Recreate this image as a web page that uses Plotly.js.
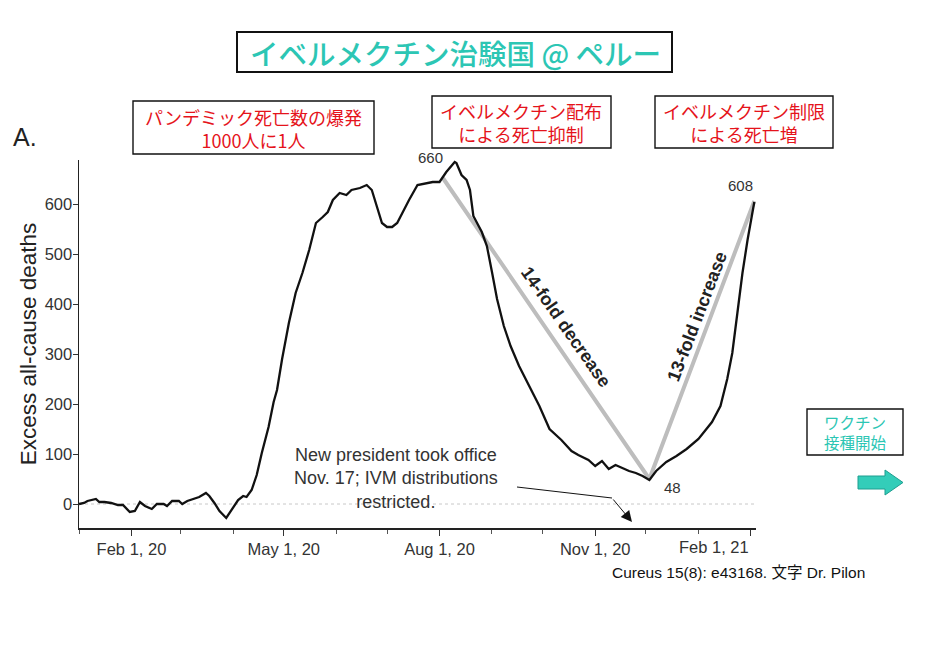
<!DOCTYPE html>
<html>
<head>
<meta charset="utf-8">
<script src="https://cdn.plot.ly/plotly-3.0.1.min.js"></script>
<style>
  html, body { margin: 0; padding: 0; background: #fff; }
  #chart { width: 934px; height: 653px; }
</style>
</head>
<body>
<div id="chart"></div>
<script>
// excess all-cause deaths (Peru)
var dates = [
  '2020-01-01','2020-01-04','2020-01-06','2020-01-11','2020-01-13','2020-01-16','2020-01-20','2020-01-24','2020-01-27','2020-01-31',
  '2020-02-03','2020-02-06','2020-02-09','2020-02-13','2020-02-16','2020-02-20','2020-02-22','2020-02-25','2020-02-29',
  '2020-03-02','2020-03-05','2020-03-09','2020-03-12','2020-03-16','2020-03-18','2020-03-21','2020-03-24','2020-03-28','2020-03-31',
  '2020-04-04','2020-04-07','2020-04-09','2020-04-12','2020-04-15','2020-04-18','2020-04-22','2020-04-25','2020-04-27','2020-04-30',
  '2020-05-04','2020-05-08','2020-05-12','2020-05-16','2020-05-20','2020-05-24','2020-05-27','2020-05-30',
  '2020-06-03','2020-06-07','2020-06-10','2020-06-15','2020-06-19','2020-06-22','2020-06-25','2020-06-28',
  '2020-07-01','2020-07-04','2020-07-07','2020-07-10','2020-07-14','2020-07-19','2020-07-24','2020-07-28',
  '2020-08-01','2020-08-05','2020-08-10','2020-08-11','2020-08-14','2020-08-17','2020-08-19','2020-08-21','2020-08-26','2020-08-29',
  '2020-09-01','2020-09-04','2020-09-08','2020-09-12','2020-09-17','2020-09-23','2020-09-29',
  '2020-10-05','2020-10-12','2020-10-18','2020-10-22','2020-10-28',
  '2020-11-01','2020-11-05','2020-11-09','2020-11-13','2020-11-17','2020-11-21','2020-11-25','2020-11-29',
  '2020-12-03','2020-12-07','2020-12-13','2020-12-19','2020-12-25',
  '2021-01-01','2021-01-09','2021-01-14','2021-01-18','2021-01-21','2021-01-24','2021-01-27','2021-01-30',
  '2021-02-02','2021-02-03'
];
var deaths = [
  0, 2, 6, 10, 4, 4, 2, -2, -2, -16,
  -14, 4, -4, -10, 0, 0, -4, 6, 6,
  0, 6, 10, 14, 22, 16, 2, -14, -28, -12,
  8, 16, 14, 28, 58, 102, 154, 204, 228, 290,
  362, 422, 462, 508, 562, 574, 584, 608,
  622, 618, 628, 632, 638, 628, 596, 562,
  554, 554, 562, 582, 608, 638, 642, 644,
  644, 664, 684, 682, 658, 648, 628, 576, 544, 516,
  464, 410, 356, 316, 276, 236, 196,
  150, 128, 106, 98, 88,
  76, 86, 70, 78, 72, 66, 62, 56,
  48, 66, 84, 96, 110,
  130, 164, 196, 250, 302, 382, 462, 528,
  582, 604
];

// grey trend segments
var trendDates = ['2020-08-03', '2020-12-03', '2021-02-03'];
var trendValues = [652, 50, 606];
var trendLabels = ['660', '48', '608'];

// x axis ticks (the last label sits left of its tick in the original)
var tickDates = ['2020-02-01', '2020-05-01', '2020-08-01', '2020-11-01', '2021-02-01'];
var tickLabels = ['Feb 1, 20', 'May 1, 20', 'Aug 1, 20', 'Nov 1, 20', 'Feb 1, 21'];

var W = 934, H = 653;
var M = { l: 79, r: 178, t: 160, b: 125 };
var PW = W - M.l - M.r, PH = H - M.t - M.b;
function px(X) { return (X - M.l) / PW; }
function py(Y) { return (H - M.b - Y) / PH; }

var EN = 'Liberation Sans, Arial, sans-serif';
var JP = 'Noto Sans CJK JP, sans-serif';
var RED = '#e5131b';
var TEAL = '#2cc6b4';

function box(x0, y0, x1, y1, w) {
  return { type: 'rect', xref: 'paper', yref: 'paper',
    x0: px(x0), x1: px(x1), y0: py(y1), y1: py(y0),
    line: { color: '#111', width: w || 1.4 }, fillcolor: 'rgba(0,0,0,0)' };
}
function note(X, Y, text, font, extra) {
  var a = { xref: 'paper', yref: 'paper', x: px(X), y: py(Y), text: text,
    showarrow: false, xanchor: 'center', yanchor: 'middle', font: font };
  for (var k in extra) a[k] = extra[k];
  return a;
}

var data = [
  {
    type: 'scatter', mode: 'lines',
    x: trendDates, y: trendValues,
    line: { color: '#bdbdbd', width: 4 },
    hoverinfo: 'skip'
  },
  {
    type: 'scatter', mode: 'lines',
    x: dates, y: deaths,
    line: { color: '#111', width: 2.3 }
  }
];

var arrowPath = 'M' + px(858) + ',' + py(476) + ' L' + px(885) + ',' + py(476) +
  ' L' + px(885) + ',' + py(470) + ' L' + px(903) + ',' + py(482.5) +
  ' L' + px(885) + ',' + py(495) + ' L' + px(885) + ',' + py(489) +
  ' L' + px(858) + ',' + py(489) + ' Z';

var shownLabels = tickLabels.slice(0, tickLabels.length - 1).concat(['']);

var layout = {
  width: W, height: H,
  margin: M,
  paper_bgcolor: '#fff', plot_bgcolor: '#fff',
  showlegend: false,
  font: { family: EN, color: '#333' },
  xaxis: {
    type: 'date',
    range: ['2020-01-01', '2021-02-04'],
    tickvals: tickDates, ticktext: shownLabels,
    ticks: 'outside', ticklen: 6, tickcolor: '#333',
    minor: { tick0: '2020-01-01', dtick: 'M1', ticks: 'outside', ticklen: 4, tickcolor: '#555' },
    showline: true, linecolor: '#222', linewidth: 1.5,
    showgrid: false, zeroline: false,
    tickfont: { size: 16.5, color: '#333' }
  },
  yaxis: {
    range: [-48, 688],
    tickvals: [0, 100, 200, 300, 400, 500, 600],
    ticks: 'outside', ticklen: 5, tickcolor: '#333',
    ticklabelstandoff: -3,
    showline: true, linecolor: '#222', linewidth: 1.5,
    showgrid: false, zeroline: false,
    tickfont: { size: 16.5, color: '#333' },
    title: { text: 'Excess all-cause deaths', font: { size: 22.5, color: '#222' }, standoff: 2 }
  },
  shapes: [
    { type: 'line', xref: 'paper', yref: 'y', x0: 0, x1: 1, y0: 0, y1: 0,
      line: { color: '#c8c8c8', width: 1, dash: 'dot' }, layer: 'below' },
    box(237, 32, 672, 72, 2),
    box(133, 101, 374, 154),
    box(432, 96, 611, 148),
    box(655, 96, 833, 148),
    box(807, 409, 903, 455),
    { type: 'line', xref: 'paper', yref: 'paper',
      x0: px(517), y0: py(487), x1: px(612), y1: py(498),
      line: { color: '#111', width: 1 } },
    { type: 'path', xref: 'paper', yref: 'paper', path: arrowPath,
      fillcolor: '#33cdb9', line: { color: '#1f9e90', width: 1 } }
  ],
  annotations: [
    note(455, 52, 'イベルメクチン治験国 @ ペルー', { family: JP, size: 28.5, color: TEAL, weight: 500 }),
    note(253, 128, 'パンデミック死亡数の爆発<br>1000人に1人', { family: JP, size: 18, color: RED }),
    note(521, 122, 'イベルメクチン配布<br>による死亡抑制', { family: JP, size: 18, color: RED }),
    note(744, 122, 'イベルメクチン制限<br>による死亡増', { family: JP, size: 18, color: RED }),
    note(855, 432, 'ワクチン<br>接種開始', { family: JP, size: 15.5, color: TEAL }),
    note(25, 137, 'A.', { family: EN, size: 25, color: '#222' }),
    note(430, 157, trendLabels[0], { family: EN, size: 15, color: '#333' }),
    note(672, 487, trendLabels[1], { family: EN, size: 15, color: '#333' }),
    note(740, 185, trendLabels[2], { family: EN, size: 15, color: '#333' }),
    note(566, 327, '<b>14-fold decrease</b>', { family: EN, size: 18, color: '#222' }, { textangle: 55 }),
    note(697, 317, '<b>13-fold increase</b>', { family: EN, size: 18, color: '#222' }, { textangle: -69 }),
    note(396, 478, 'New president took office<br>Nov. 17; IVM distributions<br>restricted.',
      { family: EN, size: 18, color: '#333' }),
    { xref: 'x', yref: 'paper', x: tickDates[tickDates.length - 1], y: py(547),
      text: tickLabels[tickLabels.length - 1], showarrow: false,
      xanchor: 'right', yanchor: 'middle', font: { family: EN, size: 16.5, color: '#333' } },
    note(738, 572, 'Cureus 15(8): e43168. 文字 Dr. Pilon', { family: 'Liberation Sans, Noto Sans CJK JP, sans-serif', size: 15.5, color: '#111' }),
    { xref: 'paper', yref: 'paper', x: px(632), y: py(522), text: '',
      showarrow: true, ax: -20, ay: -24, arrowhead: 2, arrowsize: 2.2, arrowwidth: 1, arrowcolor: '#111' }
  ]
};

Plotly.newPlot('chart', data, layout, { displayModeBar: false, responsive: false, staticPlot: true });
</script>
</body>
</html>
